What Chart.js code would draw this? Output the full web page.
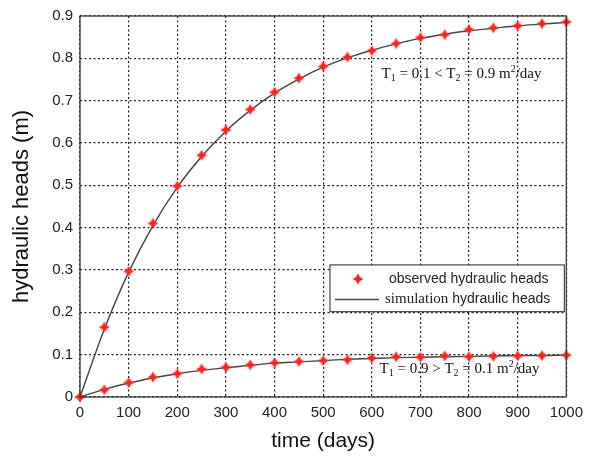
<!DOCTYPE html>
<html>
<head>
<meta charset="utf-8">
<script src="https://cdn.jsdelivr.net/npm/chart.js@4.4.1/dist/chart.umd.min.js"></script>
<style>
  html, body { margin: 0; padding: 0; background: #fff; }
  canvas { display: block; }
</style>
</head>
<body>
<canvas id="chart" width="590" height="457"></canvas>
<script>
// ---------- DATOS ----------
const days = [0, 50, 100, 150, 200, 250, 300, 350, 400, 450, 500,
              550, 600, 650, 700, 750, 800, 850, 900, 950, 1000];

// T1 = 0.1 < T2 = 0.9
const observedHigh  = [0, 0.165, 0.297, 0.41, 0.498, 0.571, 0.631, 0.679, 0.72, 0.753, 0.781,
                       0.803, 0.818, 0.835, 0.849, 0.856, 0.868, 0.872, 0.877, 0.882, 0.886];
const simulatedHigh = [0, 0.160, 0.295, 0.405, 0.495, 0.568, 0.628, 0.677, 0.718, 0.751, 0.779,
                       0.801, 0.819, 0.834, 0.847, 0.857, 0.865, 0.871, 0.877, 0.881, 0.885];

// T1 = 0.9 > T2 = 0.1
const observedLow  = [0, 0.017, 0.034, 0.047, 0.055, 0.066, 0.070, 0.076, 0.081, 0.084, 0.086,
                      0.088, 0.092, 0.095, 0.094, 0.097, 0.095, 0.096, 0.097, 0.098, 0.099];
const simulatedLow = [0, 0.018, 0.033, 0.045, 0.055, 0.063, 0.069, 0.075, 0.080, 0.083, 0.086,
                      0.089, 0.091, 0.093, 0.094, 0.095, 0.096, 0.097, 0.098, 0.098, 0.099];

const xTickLabels = ['0', '100', '200', '300', '400', '500', '600', '700', '800', '900', '1000'];
const yTickLabels = ['0', '0.1', '0.2', '0.3', '0.4', '0.5', '0.6', '0.7', '0.8', '0.9'];

const SANS = '"Liberation Sans", Arial, sans-serif';
const SERIF = '"Liberation Serif", "Times New Roman", serif';

// ---------- MARCADOR (estrella roja) ----------
function starPath(g, c, r, ri) {
    g.beginPath();
    for (let i = 0; i < 8; i++) {
        const a = i * Math.PI / 4 - Math.PI / 2;
        const rad = i % 2 === 0 ? r : ri;
        g.lineTo(c + Math.cos(a) * rad, c + Math.sin(a) * rad);
    }
    g.closePath();
}
function makeStar(size) {
    const c = document.createElement('canvas');
    c.width = c.height = size;
    const g = c.getContext('2d');
    const m = size / 2;
    // halo suave
    starPath(g, m, m, size * 0.3);
    g.fillStyle = 'rgba(255, 90, 90, 0.45)';
    g.fill();
    starPath(g, m, m - 1, size * 0.22);
    g.fillStyle = '#ff2020';
    g.fill();
    return c;
}
const star = makeStar(12);

function toXY(values) {
    return days.map((d, i) => ({ x: d, y: values[i] }));
}

// texto con subíndices / superíndices
function drawRich(ctx, x, y, parts) {
    ctx.textBaseline = 'middle';
    ctx.textAlign = 'left';
    parts.forEach(p => {
        ctx.font = p.font;
        ctx.fillText(p.t, x, y + (p.dy || 0));
        x += ctx.measureText(p.t).width;
    });
}

// ---------- PLUGIN: fondo, marco, leyenda y anotaciones ----------
const decor = {
    id: 'decor',
    beforeDraw(chart) {
        const ctx = chart.ctx;
        ctx.save();
        ctx.fillStyle = '#fff';
        ctx.fillRect(0, 0, chart.width, chart.height);
        ctx.restore();
    },
    afterDraw(chart) {
        const ctx = chart.ctx;
        const a = chart.chartArea;
        const xs = chart.scales.x, ys = chart.scales.y;
        ctx.save();

        // marco
        ctx.strokeStyle = '#3a3a3a';
        ctx.lineWidth = 1.3;
        ctx.strokeRect(a.left, a.top, a.right - a.left, a.bottom - a.top);

        // anotaciones
        ctx.fillStyle = '#111';
        const big = '15px ' + SERIF, small = '10px ' + SERIF;
        drawRich(ctx, xs.getPixelForValue(620), ys.getPixelForValue(0.762), [
            { t: 'T', font: big }, { t: '1', font: small, dy: 4 },
            { t: ' = 0.1 < T', font: big }, { t: '2', font: small, dy: 4 },
            { t: ' = 0.9 m', font: big }, { t: '2', font: small, dy: -5 },
            { t: '/day', font: big }
        ]);
        drawRich(ctx, xs.getPixelForValue(616), ys.getPixelForValue(0.066), [
            { t: 'T', font: big }, { t: '1', font: small, dy: 4 },
            { t: ' = 0.9 > T', font: big }, { t: '2', font: small, dy: 4 },
            { t: ' = 0.1 m', font: big }, { t: '2', font: small, dy: -5 },
            { t: '/day', font: big }
        ]);

        // leyenda
        const lx = xs.getPixelForValue(514), rx = a.right - 2;
        const ty = ys.getPixelForValue(0.312), by = ys.getPixelForValue(0.2015);
        ctx.fillStyle = '#fff';
        ctx.fillRect(lx, ty, rx - lx, by - ty);
        ctx.strokeStyle = '#222';
        ctx.lineWidth = 1;
        ctx.strokeRect(lx, ty, rx - lx, by - ty);

        const row1 = ty + (by - ty) * 0.3, row2 = ty + (by - ty) * 0.74;
        ctx.drawImage(star, lx + 28 - star.width / 2, row1 - star.height / 2);
        ctx.strokeStyle = '#444';
        ctx.lineWidth = 1.4;
        ctx.beginPath();
        ctx.moveTo(lx + 5, row2);
        ctx.lineTo(lx + 49, row2);
        ctx.stroke();

        ctx.fillStyle = '#222';
        drawRich(ctx, lx + 59, row1, [{ t: 'observed hydraulic heads', font: '14px ' + SANS }]);
        drawRich(ctx, lx + 55, row2, [
            { t: 'simulation', font: '15px ' + SERIF },
            { t: ' hydraulic heads', font: '14px ' + SANS }
        ]);
        ctx.restore();
    }
};

// ---------- GRÁFICA ----------
new Chart(document.getElementById('chart'), {
    type: 'scatter',
    data: {
        datasets: [
            {
                label: 'observed hydraulic heads',
                data: toXY(observedHigh),
                pointStyle: star,
                pointRadius: 5,
                clip: false
            },
            {
                label: 'observed hydraulic heads (low)',
                data: toXY(observedLow),
                pointStyle: star,
                pointRadius: 5,
                clip: false
            },
            {
                label: 'simulation hydraulic heads',
                data: toXY(simulatedHigh),
                showLine: true,
                borderColor: '#444',
                borderWidth: 1.4,
                pointRadius: 0,
                cubicInterpolationMode: 'monotone'
            },
            {
                label: 'simulation hydraulic heads (low)',
                data: toXY(simulatedLow),
                showLine: true,
                borderColor: '#444',
                borderWidth: 1.4,
                pointRadius: 0,
                cubicInterpolationMode: 'monotone'
            }
        ]
    },
    options: {
        responsive: false,
        animation: false,
        layout: { padding: { top: 13, right: 20, bottom: 0, left: 0 } },
        plugins: {
            legend: { display: false },
            tooltip: { enabled: false }
        },
        scales: {
            x: {
                type: 'linear',
                min: 0,
                max: 1000,
                afterFit: s => { s.height = 60; },
                afterBuildTicks: s => { s.ticks = xTickLabels.map(v => ({ value: +v })); },
                ticks: {
                    padding: 7,
                    color: '#222',
                    font: { family: SANS, size: 15 },
                    maxRotation: 0,
                    callback: (v, i) => xTickLabels[i]
                },
                grid: { color: '#222', lineWidth: 1.2, drawTicks: false },
                border: { display: false, dash: [2, 2.5] },
                title: {
                    display: true,
                    text: 'time (days)',
                    color: '#111',
                    font: { family: SANS, size: 21 },
                    padding: { top: 0, bottom: 3 }
                }
            },
            y: {
                min: 0,
                max: 0.9,
                afterFit: s => { s.width = 80; },
                afterBuildTicks: s => { s.ticks = yTickLabels.map(v => ({ value: +v })); },
                ticks: {
                    padding: 7,
                    color: '#222',
                    font: { family: SANS, size: 15 },
                    callback: (v, i) => yTickLabels[i]
                },
                grid: { color: '#222', lineWidth: 1.2, drawTicks: false },
                border: { display: false, dash: [2, 2.5] },
                title: {
                    display: true,
                    text: 'hydraulic heads (m)',
                    color: '#111',
                    font: { family: SANS, size: 22 },
                    padding: { top: 9, bottom: 0 }
                }
            }
        }
    },
    plugins: [decor]
});
</script>
</body>
</html>
